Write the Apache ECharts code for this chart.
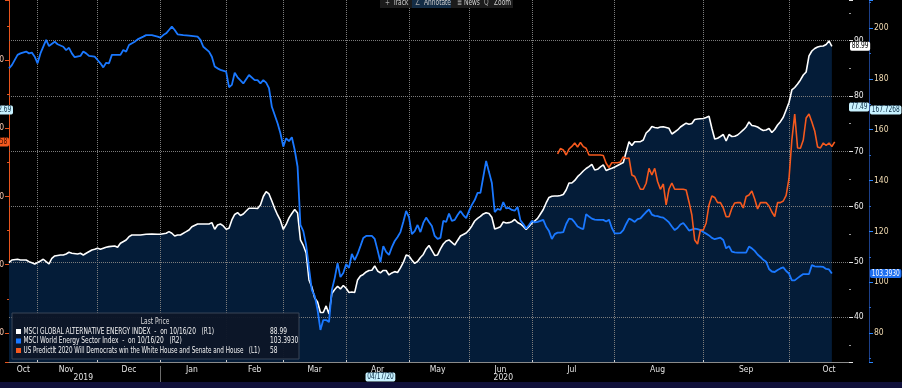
<!DOCTYPE html>
<html><head><meta charset="utf-8">
<script src="https://cdn.jsdelivr.net/npm/echarts@6/dist/echarts.min.js"></script>
<style>html,body{margin:0;padding:0;background:#000;overflow:hidden}#c{width:902px;height:388px}</style>
</head><body><div id="c"></div>
<script>
const FONT = "'Liberation Sans Narrow','DejaVu Sans Condensed',sans-serif";
const NARROW = 0.82; // horizontal squeeze for the narrow terminal font

// ---- x categories: Bloomberg observation dates (weekdays until the daily PredictIt series starts, then every day)
const startDate = '2019-10-18', dailyFrom = '2020-07-09', endDate = '2020-10-22';
function buildDates() {
  const out = []; let d = new Date(startDate + 'T00:00:00Z');
  const e = new Date(endDate + 'T00:00:00Z'), df = new Date(dailyFrom + 'T00:00:00Z');
  while (d <= e) { const wd = d.getUTCDay(); if (d >= df || (wd !== 0 && wd !== 6)) out.push(d.toISOString().slice(0, 10)); d = new Date(d.getTime() + 86400000); }
  return out;
}
const dates = buildDates();
const monthNames = ['Jan','Feb','Mar','Apr','May','Jun','Jul','Aug','Sep','Oct','Nov','Dec'];
const yearLabels = ['2019', '2020'];

// ---- series names / last prices
const whiteName = 'MSCI GLOBAL ALTERNATIVE ENERGY INDEX  -  on 10/16/20   (R1)';
const blueName = 'MSCI World Energy Sector Index  -  on 10/16/20   (R2)';
const orangeName = 'US PredictIt 2020 Will Democrats win the White House and Senate and House   (L1)';
const legendNames = [whiteName, blueName, orangeName];
const legendValues = ['88.99', '103.3930', '58'];
const legendTitle = 'Last Price';
const toolbarItems = [['+', 'Track'], ['∠', 'Annotate'], ['≣', 'News'], ['Q', 'Zoom']];

// ---- MSCI Global Alternative Energy (R1): sparse observations then every observation from index 75
const whiteIdx = [0,1,3,4,6,7,8,9,11,12,13,14,15,16,18,19,20,21,22,24,25,26,27,29,30,31,32,34,35,37,38,39,41,42,43,45,46,48,50,52,53,55,56,57,58,59,60,62,63,64,66,68,70,71,72,73,74];
const whiteVal = [49.86,50.35,50.48,50.35,50.35,50.04,49.86,49.63,50.17,50.48,50.04,49.63,50.66,51.07,51.26,51.26,51.44,51.74,51.56,51.44,51.56,51.26,51.56,52.16,52.29,52.47,52.29,52.65,52.76,52.88,52.65,53.37,53.97,54.56,54.87,54.87,54.87,55.0,55.05,55.0,55.0,55.18,55.47,55.18,54.69,54.87,54.87,55.47,55.78,56.37,56.86,56.86,56.86,57.10,55.90,56.68,56.86];
const whiteDailyStart = 75;
const whiteDaily = [56.50,55.90,56.08,57.58,58.58,58.90,58.40,58.67,59.21,59.70,59.70,59.70,59.66,60.30,61.83,62.70,62.29,61.02,59.66,58.49,57.49,55.87,56.77,57.95,58.76,59.48,58.85,53.97,52.97,51.62,46.74,45.47,43.48,42.76,40.86,40.86,42.04,40.59,44.30,45.02,45.60,45.11,45.74,45.23,44.48,44.57,44.48,46.74,47.46,47.73,48.18,48.45,48.49,49.27,48.36,48.00,48.45,48.45,47.64,48.00,48.24,48.09,48.91,49.90,51.26,51.07,50.35,49.72,50.08,50.80,51.35,52.34,52.97,52.07,51.17,51.26,52.34,53.24,53.79,53.97,53.52,53.06,53.88,54.69,54.96,55.23,55.78,56.50,57.40,57.86,58.22,58.67,58.90,58.76,58.07,55.96,56.14,56.37,57.22,57.04,57.10,57.28,57.67,57.13,56.86,56.41,55.87,56.41,57.04,57.40,57.86,58.67,59.48,60.66,61.65,61.87,61.92,61.92,62.01,62.19,63.01,64.27,64.27,64.73,65.41,65.90,66.44,66.89,67.22,67.62,66.62,66.75,67.17,67.53,66.53,66.75,66.93,67.17,67.44,67.71,67.98,69.88,71.74,71.05,71.74,71.74,71.74,72.05,73.31,73.77,74.49,74.31,74.22,74.40,74.43,74.31,74.16,73.13,73.49,73.86,74.40,74.76,75.09,74.89,75.03,75.75,75.84,75.90,75.94,76.12,76.33,74.16,72.23,72.36,72.68,73.04,71.87,73.04,72.68,72.72,72.95,73.40,73.86,74.40,75.30,74.67,74.58,74.40,74.04,73.77,73.86,74.13,73.40,73.95,74.76,75.36,76.15,77.47,78.83,81.09,81.54,82.17,82.90,83.80,84.34,87.24,88.14,88.59,88.86,88.99,89.04,89.31,89.95,88.99];

// ---- MSCI World Energy Sector (R2)
const blueIdx = [0,1,3,4,6,7,8,9,10,11,13,14,16,17,19,20,21,22,23,25,26,27,28,30,31,32,33,34,35,36,38,39,40,41,42,44,45,47,48,50,52,53,54,55,56,57,58,59,61,63,66,67,68,70,71,72,73,74,76,77,78,79,80,82,84,86,87,88,89,90,91,92,94,95,96,97,98,99,100,101];
const blueVal = [184.1,185.4,189.4,190.0,190.7,190.0,190.3,188.7,186.1,190.0,195.3,192.9,194.6,193.6,192.6,191.3,192.2,190.0,188.5,189.0,190.7,190.0,189.0,188.7,187.4,186.1,184.5,186.3,186.1,189.4,189.4,189.4,191.3,190.7,193.3,194.6,195.5,196.6,197.2,197.2,196.6,196.2,197.2,197.9,199.2,200.5,199.2,197.5,197.2,197.0,196.6,195.3,192.6,190.7,188.7,184.8,184.1,183.5,182.8,176.7,177.6,182.4,180.6,178.2,181.5,179.5,179.5,178.2,179.5,178.5,176.3,169.0,162.5,158.6,153.3,156.6,155.5,157.0,152.0,145.4];
const blueDailyStart = 102;
const blueDaily = [122.5,120.1,114.6,105.6,96.9,94.6,89.0,81.2,85.1,85.1,84.3,96.9,101.6,107.5,102.0,103.6,107.1,105.6,111.1,108.7,111.1,114.2,117.4,118.2,118.2,118.2,117.0,112.6,107.9,114.2,111.9,110.7,113.8,116.2,117.8,119.7,123.7,128.0,125.6,118.9,120.1,122.5,119.7,123.3,125.4,123.7,122.1,118.2,117.0,117.4,124.1,123.7,127.0,124.1,124.5,126.4,128.0,126.4,125.2,128.0,130.4,132.3,135.1,135.1,141.4,147.7,143.3,139.0,127.6,128.8,128.4,131.5,129.0,129.2,128.4,128.1,129.6,124.3,122.9,121.1,122.5,124.1,123.5,123.7,124.1,124.5,121.8,120.1,117.0,118.9,119.5,119.5,119.7,122.9,125.0,124.8,123.5,121.9,121.3,120.9,126.8,125.8,125.0,124.6,124.5,124.5,124.5,123.9,124.6,121.3,119.2,119.2,119.3,120.5,122.9,125.0,124.5,123.7,124.8,125.1,126.4,127.6,128.6,126.6,126.1,126.0,125.6,125.4,124.5,123.5,121.9,120.5,121.3,122.7,123.3,121.9,120.3,120.7,121.1,120.9,120.5,119.7,119.1,118.4,117.4,116.9,117.2,117.5,116.6,113.3,114.2,112.0,111.7,111.6,111.6,111.6,111.6,114.0,113.3,112.3,110.9,109.9,108.8,108.0,105.2,104.2,104.0,104.8,105.4,105.8,104.4,103.4,100.7,100.7,101.6,102.4,103.2,103.2,103.2,106.7,106.2,106.1,106.1,106.0,105.2,105.0,103.393];

// ---- PredictIt (L1), daily from index 192
const orangeStart = 192;
const orangeVal = [56.23,57.03,56.82,56.08,56.96,57.33,57.84,57.26,57.91,57.30,57.06,56.08,56.08,56.08,56.08,56.08,56.01,54.87,54.25,54.95,54.95,54.95,55.06,55.79,55.57,55.64,53.15,52.93,51.98,51.06,51.06,51.94,54.11,53.15,54.11,52.20,51.06,51.83,48.76,51.10,51.98,51.06,51.06,51.06,51.06,50.96,49.20,47.29,43.63,43.04,45.10,45.10,46.12,48.76,50.07,49.86,49.10,49.10,48.32,47.04,47.04,48.27,49.05,49.10,49.10,48.32,50.00,50.22,50.81,49.64,48.17,49.10,49.10,49.10,48.61,47.73,47.04,49.10,49.10,49.34,50.15,52.64,58.28,62.09,57.11,57.06,58.28,61.50,62.09,60.92,59.60,57.26,57.11,57.84,57.47,57.84,57.33,58];

// ---- crosshair read-outs shown on the axes
const crossDate = '2020-04-17', crossDateLabel = '04/17/20';
const crossL1 = 62.69, crossR1 = 77.49, crossR2 = 167.7268;

// ---- build point lists
const whitePts = whiteIdx.map((x, i) => [x, whiteVal[i]]).concat(whiteDaily.map((v, i) => [whiteDailyStart + i, v]));
const bluePts = blueIdx.map((x, i) => [x, blueVal[i]]).concat(blueDaily.map((v, i) => [blueDailyStart + i, v]));
const orangePts = orangeVal.map((v, i) => [orangeStart + i, v]);

// month starts / month label positions (last, partial month labelled at its calendar middle)
const monthStart = new Set(), monthLabel = new Set();
(function () {
  let cur = null, first = 0;
  const close = (f, l) => monthLabel.add(Math.floor((f + l + 1) / 2));
  dates.forEach((d, i) => { const k = d.slice(0, 7); if (k !== cur) { if (cur !== null) { close(first, i - 1); monthStart.add(i); } cur = k; first = i; } });
  monthLabel.add(Math.min(first + 14, dates.length - 1));
})();
const yearStartIdx = dates.findIndex(d => d.startsWith('2020'));
const yearLabelIdx = new Set([Math.floor(yearStartIdx / 2), Math.floor((yearStartIdx + dates.length - 1) / 2)]);

const COL_W = '#ffffff', COL_B = '#1a78ff', COL_O = '#f5591e';
const SERIES_COLORS = [COL_W, COL_B, COL_O];
const gridLine = { type: 'dotted', color: '#7c7c7c', width: 1 };

const chart = echarts.init(document.getElementById('c'), null, { renderer: 'canvas' });
const option = {
  backgroundColor: '#000',
  animation: false,
  grid: { left: 9, right: 53, top: 0, bottom: 26, containLabel: false, outerBoundsMode: 'none' },
  xAxis: [
    { type: 'category', data: dates, boundaryGap: false, z: 3,
      axisLine: { show: true, lineStyle: { color: '#8a8a8a' } },
      axisTick: { show: true, inside: true, length: 2, interval: i => monthStart.has(i), lineStyle: { color: '#cfcfcf' } },
      axisLabel: { interval: i => monthLabel.has(i), formatter: v => monthNames[+v.slice(5, 7) - 1], color: '#e4e4e4', fontSize: 8.5, fontFamily: FONT, margin: 3 },
      splitLine: { show: true, interval: i => monthStart.has(i), lineStyle: gridLine } },
    { type: 'category', data: dates, boundaryGap: false, position: 'bottom', offset: 4,
      axisLine: { show: false },
      axisTick: { show: true, length: 16, interval: i => i === yearStartIdx, lineStyle: { color: '#6c6c6c' } },
      axisLabel: { interval: i => yearLabelIdx.has(i), formatter: v => yearLabels.indexOf(v.slice(0, 4)) >= 0 ? v.slice(0, 4) : '', color: '#e4e4e4', fontSize: 8.5, fontFamily: FONT, margin: 7 },
      splitLine: { show: false } }
  ],
  yAxis: [
    { type: 'value', position: 'left', min: 25.75, max: 78.79, splitNumber: 5,
      axisLine: { show: true, lineStyle: { color: '#e8541c' } },
      axisTick: { show: true, length: 4, lineStyle: { color: '#e8541c' } },
      minorTick: { show: true, splitNumber: 2, length: 2, lineStyle: { color: '#e8541c' } },
      axisLabel: { color: '#f2c4ae', fontSize: 8.5, fontFamily: FONT, margin: 5, showMinLabel: false, showMaxLabel: false },
      splitLine: { show: false } },
    { type: 'value', position: 'right', min: 31.9, max: 97.36, splitNumber: 5, z: 3,
      axisLine: { show: false },
      axisTick: { show: true, length: 4, lineStyle: { color: '#e6e6e6' } },
      minorTick: { show: true, splitNumber: 2, length: 2, lineStyle: { color: '#9a9a9a' } },
      axisLabel: { color: '#ededed', fontSize: 8.5, fontFamily: FONT, margin: 5, showMinLabel: false, showMaxLabel: false },
      splitLine: { show: true, showMinLine: false, showMaxLine: false, lineStyle: gridLine } },
    { type: 'value', position: 'right', offset: 20, min: 68.6, max: 211.0, splitNumber: 7,
      axisLine: { show: true, lineStyle: { color: '#1c3f88' } },
      axisTick: { show: true, length: 4, lineStyle: { color: '#2a86ff' } },
      minorTick: { show: true, splitNumber: 2, length: 2, lineStyle: { color: '#2a6ad0' } },
      axisLabel: { color: '#f3dcb2', fontSize: 8.5, fontFamily: FONT, margin: 5, showMinLabel: false, showMaxLabel: false },
      splitLine: { show: false } }
  ],
  series: [
    { name: 'area', type: 'line', xAxisIndex: 0, yAxisIndex: 1, data: whitePts, showSymbol: false, z: 1,
      lineStyle: { width: 0 }, areaStyle: { color: '#041c38', opacity: 1, origin: 'start' }, silent: true },
    { name: whiteName, type: 'line', xAxisIndex: 0, yAxisIndex: 1, data: whitePts, showSymbol: false, z: 5,
      color: COL_W, lineStyle: { color: COL_W, width: 1.6 } },
    { name: blueName, type: 'line', xAxisIndex: 0, yAxisIndex: 2, data: bluePts, showSymbol: false, z: 5,
      color: COL_B, lineStyle: { color: COL_B, width: 1.8 } },
    { name: orangeName, type: 'line', xAxisIndex: 0, yAxisIndex: 0, data: orangePts, showSymbol: false, z: 5,
      color: COL_O, lineStyle: { color: COL_O, width: 1.6 } }
  ]
};
chart.setOption(option);

// ---- helpers for overlay text (narrow terminal font emulated by horizontal scaling)
function txt(x, y, text, fill, align, z, extra, sx) {
  return { type: 'text', x: x, y: y, z: z || 150, scaleX: sx || NARROW,
    style: Object.assign({ text: text, fill: fill, font: '8px ' + FONT, align: align || 'left', verticalAlign: 'middle' }, extra || {}) };
}
function tag(x, y, text, bg, fg, align) {
  return txt(x, y, text, fg, align, 200, { backgroundColor: bg, padding: [1, 2, 0, 2], borderRadius: 2 });
}
const yp = (ai, v) => chart.convertToPixel({ yAxisIndex: ai }, v);
const xp = d => chart.convertToPixel({ xAxisIndex: 0 }, d);
const lastW = whiteDaily[whiteDaily.length - 1], lastB = blueDaily[blueDaily.length - 1], lastO = orangeVal[orangeVal.length - 1];
const CYAN = '#c8f2ff', CYAN_T = '#0b2b44';

const graphics = [];
// toolbar
graphics.push({ type: 'rect', shape: { x: 380, y: -2, width: 133, height: 10 }, style: { fill: '#1b1b1b' }, z: 150 });
graphics.push({ type: 'rect', shape: { x: 412, y: -2, width: 39, height: 10 }, style: { fill: '#132c45' }, z: 151 });
const tbIcon = [385, 415, 457, 484], tbText = [393, 424, 464, 494];
toolbarItems.forEach((t, i) => { graphics.push(txt(tbIcon[i], 3, t[0], '#a8a8a8', 'left', 152)); graphics.push(txt(tbText[i], 3, t[1], '#cfcfcf', 'left', 152)); });
// legend box
graphics.push({ type: 'rect', shape: { x: 12, y: 313, width: 287, height: 46 }, style: { fill: 'rgba(12,22,40,0.96)', stroke: '#394556', lineWidth: 1 }, z: 140 });
graphics.push(txt(155, 321.5, legendTitle, '#dcdcdc', 'center', 150));
const rowY = [331.5, 341, 350.5], rowScale = [NARROW, NARROW, 0.785];
legendNames.forEach((n, i) => {
  graphics.push({ type: 'rect', shape: { x: 16, y: rowY[i] - 2.5, width: 5, height: 5 }, style: { fill: SERIES_COLORS[i] }, z: 150 });
  graphics.push(txt(23.5, rowY[i], n, '#f2f2f2', 'left', 150, null, rowScale[i]));
  graphics.push(txt(270, rowY[i], legendValues[i], '#f2f2f2', 'left', 150));
});
// bottom band
graphics.push({ type: 'rect', shape: { x: 0, y: 382, width: 902, height: 6 }, style: { fill: '#10103a' }, z: 150 });
// value tags
graphics.push(tag(850, yp(1, lastW), lastW.toFixed(2), '#ffffff', '#000000'));
graphics.push(tag(849, yp(1, crossR1) - 3, crossR1.toFixed(2), CYAN, CYAN_T));
graphics.push(tag(870, yp(2, lastB), lastB.toFixed(4), '#1e6ff0', '#ffffff'));
graphics.push(tag(870, yp(2, crossR2), crossR2.toFixed(4), CYAN, CYAN_T));
graphics.push(tag(9, yp(0, lastO), String(lastO), COL_O, '#3a0e00', 'right'));
graphics.push(tag(13, yp(0, crossL1), crossL1.toFixed(2), CYAN, CYAN_T, 'right'));
graphics.push(tag(xp(crossDate), 377, crossDateLabel, CYAN, CYAN_T, 'center'));
chart.setOption({ graphic: graphics });
</script></body></html>
